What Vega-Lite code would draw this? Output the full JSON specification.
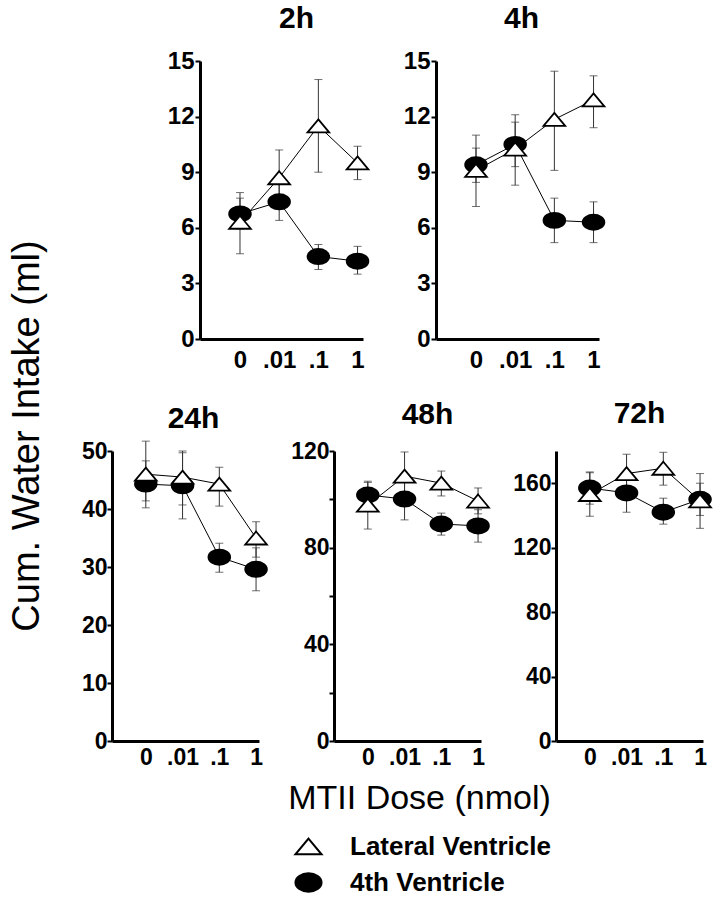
{
  "$schema": "https://vega.github.io/schema/vega-lite/v6.json",
  "padding": {"left": 8, "top": 4, "right": 2, "bottom": 8},
  "datasets": {
    "d": [
      {"p": "2h", "g": "4th Ventricle", "d": "0", "v": 6.75, "lo": 5.95, "hi": 7.6},
      {"p": "2h", "g": "4th Ventricle", "d": ".01", "v": 7.4, "lo": 6.4, "hi": 8.4},
      {"p": "2h", "g": "4th Ventricle", "d": ".1", "v": 4.45, "lo": 3.75, "hi": 5.1},
      {"p": "2h", "g": "4th Ventricle", "d": "1", "v": 4.2, "lo": 3.5, "hi": 5.0},
      {"p": "2h", "g": "Lateral Ventricle", "d": "0", "v": 6.3, "lo": 4.6, "hi": 7.9},
      {"p": "2h", "g": "Lateral Ventricle", "d": ".01", "v": 8.7, "lo": 7.2, "hi": 10.2},
      {"p": "2h", "g": "Lateral Ventricle", "d": ".1", "v": 11.5, "lo": 9.0, "hi": 14.0},
      {"p": "2h", "g": "Lateral Ventricle", "d": "1", "v": 9.5, "lo": 8.6, "hi": 10.4},
      {"p": "4h", "g": "4th Ventricle", "d": "0", "v": 9.4, "lo": 8.45, "hi": 10.3},
      {"p": "4h", "g": "4th Ventricle", "d": ".01", "v": 10.5, "lo": 9.3, "hi": 11.7},
      {"p": "4h", "g": "4th Ventricle", "d": ".1", "v": 6.4, "lo": 5.2, "hi": 7.6},
      {"p": "4h", "g": "4th Ventricle", "d": "1", "v": 6.3, "lo": 5.2, "hi": 7.4},
      {"p": "4h", "g": "Lateral Ventricle", "d": "0", "v": 9.1, "lo": 7.15, "hi": 11.0},
      {"p": "4h", "g": "Lateral Ventricle", "d": ".01", "v": 10.25, "lo": 8.3, "hi": 12.1},
      {"p": "4h", "g": "Lateral Ventricle", "d": ".1", "v": 11.85, "lo": 9.1, "hi": 14.45},
      {"p": "4h", "g": "Lateral Ventricle", "d": "1", "v": 12.9, "lo": 11.4, "hi": 14.2},
      {"p": "24h", "g": "4th Ventricle", "d": "0", "v": 44.3, "lo": 40.2, "hi": 48.3},
      {"p": "24h", "g": "4th Ventricle", "d": ".01", "v": 44.0, "lo": 38.3, "hi": 49.7},
      {"p": "24h", "g": "4th Ventricle", "d": ".1", "v": 31.7, "lo": 29.1, "hi": 34.1},
      {"p": "24h", "g": "4th Ventricle", "d": "1", "v": 29.6, "lo": 25.9, "hi": 33.3},
      {"p": "24h", "g": "Lateral Ventricle", "d": "0", "v": 46.0, "lo": 41.4, "hi": 51.7},
      {"p": "24h", "g": "Lateral Ventricle", "d": ".01", "v": 45.5, "lo": 40.7, "hi": 50.0},
      {"p": "24h", "g": "Lateral Ventricle", "d": ".1", "v": 44.3, "lo": 40.5, "hi": 47.2},
      {"p": "24h", "g": "Lateral Ventricle", "d": "1", "v": 35.0, "lo": 31.7, "hi": 37.8},
      {"p": "48h", "g": "4th Ventricle", "d": "0", "v": 101.8, "lo": 96.6, "hi": 107.0},
      {"p": "48h", "g": "4th Ventricle", "d": ".01", "v": 100.1, "lo": 91.5, "hi": 108.7},
      {"p": "48h", "g": "4th Ventricle", "d": ".1", "v": 89.8, "lo": 85.2, "hi": 94.3},
      {"p": "48h", "g": "4th Ventricle", "d": "1", "v": 89.0, "lo": 82.3, "hi": 95.7},
      {"p": "48h", "g": "Lateral Ventricle", "d": "0", "v": 97.6, "lo": 87.7, "hi": 107.5},
      {"p": "48h", "g": "Lateral Ventricle", "d": ".01", "v": 109.6, "lo": 99.6, "hi": 119.6},
      {"p": "48h", "g": "Lateral Ventricle", "d": ".1", "v": 106.7, "lo": 101.4, "hi": 111.7},
      {"p": "48h", "g": "Lateral Ventricle", "d": "1", "v": 99.3, "lo": 94.0, "hi": 104.7},
      {"p": "72h", "g": "4th Ventricle", "d": "0", "v": 157, "lo": 147, "hi": 167},
      {"p": "72h", "g": "4th Ventricle", "d": ".01", "v": 154, "lo": 142, "hi": 166},
      {"p": "72h", "g": "4th Ventricle", "d": ".1", "v": 142, "lo": 134.6, "hi": 150.7},
      {"p": "72h", "g": "4th Ventricle", "d": "1", "v": 150, "lo": 140, "hi": 160},
      {"p": "72h", "g": "Lateral Ventricle", "d": "0", "v": 153, "lo": 139.5, "hi": 166.5},
      {"p": "72h", "g": "Lateral Ventricle", "d": ".01", "v": 166, "lo": 154, "hi": 178},
      {"p": "72h", "g": "Lateral Ventricle", "d": ".1", "v": 169.3, "lo": 158.8, "hi": 179.2},
      {"p": "72h", "g": "Lateral Ventricle", "d": "1", "v": 149, "lo": 132, "hi": 166}
    ]
  },
  "data": {"name": "d"},
  "title": {"text": "Cum. Water Intake (ml)", "orient": "left", "anchor": "middle", "fontSize": 38, "fontWeight": "normal", "offset": 25, "dx": 14},
  "spacing": 27,
  "vconcat": [
    {
      "bounds": "flush",
      "spacing": 73,
      "hconcat": [
        {"width": 15, "height": 278, "data": {"values": []}, "mark": "point"},
        {
          "width": 163, "height": 278,
          "title": {"text": "2h", "offset": 15, "dx": 15},
          "transform": [{"filter": "datum.p === '2h'"}],
          "encoding": {"x": {"field": "d", "type": "ordinal", "scale": {"type": "point", "domain": ["0", ".01", ".1", "1"], "padding": 0.58, "align": 0.88}, "axis": {"title": null, "labelFontSize": 24, "labelPadding": 9}}},
          "layer": [
            {"mark": {"type": "rule", "color": "#333", "strokeWidth": 1}, "encoding": {"y": {"field": "lo", "type": "quantitative", "scale": {"domain": [0, 15]}, "title": null}, "y2": {"field": "hi"}}},
            {"mark": {"type": "tick", "color": "#333", "thickness": 1, "size": 8}, "encoding": {"y": {"field": "lo", "type": "quantitative", "scale": {"domain": [0, 15]}, "title": null}}},
            {"mark": {"type": "tick", "color": "#333", "thickness": 1, "size": 8}, "encoding": {"y": {"field": "hi", "type": "quantitative", "scale": {"domain": [0, 15]}, "title": null}}},
            {"mark": {"type": "line", "color": "black", "strokeWidth": 1}, "encoding": {"y": {"field": "v", "type": "quantitative", "scale": {"domain": [0, 15]}, "title": null}, "detail": {"field": "g"}, "order": {"value": null}}},
            {"mark": {"type": "point", "filled": true, "strokeWidth": 1.8, "size": 470, "opacity": 1},
             "encoding": {
               "y": {"field": "v", "type": "quantitative", "scale": {"domain": [0, 15]}, "axis": {"title": null, "values": [0, 3, 6, 9, 12, 15], "labelFontSize": 24}},
               "shape": {"field": "g", "type": "nominal", "scale": {"domain": ["Lateral Ventricle", "4th Ventricle"], "range": ["M0,-0.6L1,0.6L-1,0.6Z", "M-1,0A1,0.7,0,1,0,1,0A1,0.7,0,1,0,-1,0Z"]}, "legend": {"title": null, "orient": "none", "legendX": 182, "legendY": 771}},
               "fill": {"field": "g", "type": "nominal", "scale": {"domain": ["Lateral Ventricle", "4th Ventricle"], "range": ["white", "black"]}, "legend": {"title": null, "orient": "none", "legendX": 182, "legendY": 771}},
               "stroke": {"field": "g", "type": "nominal", "scale": {"domain": ["Lateral Ventricle", "4th Ventricle"], "range": ["black", "black"]}, "legend": {"title": null, "orient": "none", "legendX": 182, "legendY": 771}}
             }}
          ]
        },
        {
          "width": 163, "height": 278,
          "title": {"text": "4h", "offset": 15, "dx": 4},
          "transform": [{"filter": "datum.p === '4h'"}],
          "encoding": {"x": {"field": "d", "type": "ordinal", "scale": {"type": "point", "domain": ["0", ".01", ".1", "1"], "padding": 0.58, "align": 0.88}, "axis": {"title": null, "labelFontSize": 24, "labelPadding": 9}}},
          "layer": [
            {"mark": {"type": "rule", "color": "#333", "strokeWidth": 1}, "encoding": {"y": {"field": "lo", "type": "quantitative", "scale": {"domain": [0, 15]}, "title": null}, "y2": {"field": "hi"}}},
            {"mark": {"type": "tick", "color": "#333", "thickness": 1, "size": 8}, "encoding": {"y": {"field": "lo", "type": "quantitative", "scale": {"domain": [0, 15]}, "title": null}}},
            {"mark": {"type": "tick", "color": "#333", "thickness": 1, "size": 8}, "encoding": {"y": {"field": "hi", "type": "quantitative", "scale": {"domain": [0, 15]}, "title": null}}},
            {"mark": {"type": "line", "color": "black", "strokeWidth": 1}, "encoding": {"y": {"field": "v", "type": "quantitative", "scale": {"domain": [0, 15]}, "title": null}, "detail": {"field": "g"}, "order": {"value": null}}},
            {"mark": {"type": "point", "filled": true, "strokeWidth": 1.8, "size": 470, "opacity": 1},
             "encoding": {
               "y": {"field": "v", "type": "quantitative", "scale": {"domain": [0, 15]}, "axis": {"title": null, "values": [0, 3, 6, 9, 12, 15], "labelFontSize": 24}},
               "shape": {"field": "g", "type": "nominal", "scale": {"domain": ["Lateral Ventricle", "4th Ventricle"], "range": ["M0,-0.6L1,0.6L-1,0.6Z", "M-1,0A1,0.7,0,1,0,1,0A1,0.7,0,1,0,-1,0Z"]}, "legend": {"title": null, "orient": "none", "legendX": 182, "legendY": 771}},
               "fill": {"field": "g", "type": "nominal", "scale": {"domain": ["Lateral Ventricle", "4th Ventricle"], "range": ["white", "black"]}, "legend": {"title": null, "orient": "none", "legendX": 182, "legendY": 771}},
               "stroke": {"field": "g", "type": "nominal", "scale": {"domain": ["Lateral Ventricle", "4th Ventricle"], "range": ["black", "black"]}, "legend": {"title": null, "orient": "none", "legendX": 182, "legendY": 771}}
             }}
          ]
        }
      ]
    },
    {
      "bounds": "flush",
      "spacing": 75,
      "hconcat": [
        {
          "width": 147, "height": 290,
          "title": {"text": "24h", "offset": 6, "dx": 8},
          "transform": [{"filter": "datum.p === '24h'"}],
          "encoding": {"x": {"field": "d", "type": "ordinal", "scale": {"type": "point", "domain": ["0", ".01", ".1", "1"], "padding": 0.5, "align": 0.92}, "axis": {"title": null, "labelFontSize": 23, "labelPadding": 5}}},
          "layer": [
            {"mark": {"type": "rule", "color": "#333", "strokeWidth": 1}, "encoding": {"y": {"field": "lo", "type": "quantitative", "scale": {"domain": [0, 50]}, "title": null}, "y2": {"field": "hi"}}},
            {"mark": {"type": "tick", "color": "#333", "thickness": 1, "size": 8}, "encoding": {"y": {"field": "lo", "type": "quantitative", "scale": {"domain": [0, 50]}, "title": null}}},
            {"mark": {"type": "tick", "color": "#333", "thickness": 1, "size": 8}, "encoding": {"y": {"field": "hi", "type": "quantitative", "scale": {"domain": [0, 50]}, "title": null}}},
            {"mark": {"type": "line", "color": "black", "strokeWidth": 1}, "encoding": {"y": {"field": "v", "type": "quantitative", "scale": {"domain": [0, 50]}, "title": null}, "detail": {"field": "g"}, "order": {"value": null}}},
            {"mark": {"type": "point", "filled": true, "strokeWidth": 1.8, "size": 470, "opacity": 1},
             "encoding": {
               "y": {"field": "v", "type": "quantitative", "scale": {"domain": [0, 50]}, "axis": {"title": null, "values": [0, 5, 10, 15, 20, 25, 30, 35, 40, 45, 50], "labelExpr": "datum.value % 10 === 0 ? datum.label : ''", "labelFontSize": 23, "minExtent": 40, "labelPadding": 0}},
               "shape": {"field": "g", "type": "nominal", "scale": {"domain": ["Lateral Ventricle", "4th Ventricle"], "range": ["M0,-0.6L1,0.6L-1,0.6Z", "M-1,0A1,0.7,0,1,0,1,0A1,0.7,0,1,0,-1,0Z"]}, "legend": {"title": null, "orient": "none", "legendX": 182, "legendY": 771}},
               "fill": {"field": "g", "type": "nominal", "scale": {"domain": ["Lateral Ventricle", "4th Ventricle"], "range": ["white", "black"]}, "legend": {"title": null, "orient": "none", "legendX": 182, "legendY": 771}},
               "stroke": {"field": "g", "type": "nominal", "scale": {"domain": ["Lateral Ventricle", "4th Ventricle"], "range": ["black", "black"]}, "legend": {"title": null, "orient": "none", "legendX": 182, "legendY": 771}}
             }}
          ]
        },
        {
          "width": 147, "height": 290,
          "title": {"text": "48h", "offset": 10, "dx": 20},
          "transform": [{"filter": "datum.p === '48h'"}],
          "encoding": {"x": {"field": "d", "type": "ordinal", "scale": {"type": "point", "domain": ["0", ".01", ".1", "1"], "padding": 0.5, "align": 0.92}, "axis": {"title": "MTII Dose (nmol)", "labelFontSize": 23, "labelPadding": 5, "titleFontSize": 34, "titleFontWeight": "normal", "titleX": 85, "titleY": 67, "titleBaseline": "alphabetic", "titleAlign": "center"}}},
          "layer": [
            {"mark": {"type": "rule", "color": "#333", "strokeWidth": 1}, "encoding": {"y": {"field": "lo", "type": "quantitative", "scale": {"domain": [0, 120]}, "title": null}, "y2": {"field": "hi"}}},
            {"mark": {"type": "tick", "color": "#333", "thickness": 1, "size": 8}, "encoding": {"y": {"field": "lo", "type": "quantitative", "scale": {"domain": [0, 120]}, "title": null}}},
            {"mark": {"type": "tick", "color": "#333", "thickness": 1, "size": 8}, "encoding": {"y": {"field": "hi", "type": "quantitative", "scale": {"domain": [0, 120]}, "title": null}}},
            {"mark": {"type": "line", "color": "black", "strokeWidth": 1}, "encoding": {"y": {"field": "v", "type": "quantitative", "scale": {"domain": [0, 120]}, "title": null}, "detail": {"field": "g"}, "order": {"value": null}}},
            {"mark": {"type": "point", "filled": true, "strokeWidth": 1.8, "size": 470, "opacity": 1},
             "encoding": {
               "y": {"field": "v", "type": "quantitative", "scale": {"domain": [0, 120]}, "axis": {"title": null, "values": [0, 20, 40, 60, 80, 100, 120], "labelExpr": "datum.value % 40 === 0 ? datum.label : ''", "labelFontSize": 23, "labelPadding": 0}},
               "shape": {"field": "g", "type": "nominal", "scale": {"domain": ["Lateral Ventricle", "4th Ventricle"], "range": ["M0,-0.6L1,0.6L-1,0.6Z", "M-1,0A1,0.7,0,1,0,1,0A1,0.7,0,1,0,-1,0Z"]}, "legend": {"title": null, "orient": "none", "legendX": 182, "legendY": 771}},
               "fill": {"field": "g", "type": "nominal", "scale": {"domain": ["Lateral Ventricle", "4th Ventricle"], "range": ["white", "black"]}, "legend": {"title": null, "orient": "none", "legendX": 182, "legendY": 771}},
               "stroke": {"field": "g", "type": "nominal", "scale": {"domain": ["Lateral Ventricle", "4th Ventricle"], "range": ["black", "black"]}, "legend": {"title": null, "orient": "none", "legendX": 182, "legendY": 771}}
             }}
          ]
        },
        {
          "width": 147, "height": 290,
          "title": {"text": "72h", "offset": 22, "dx": 10},
          "transform": [{"filter": "datum.p === '72h'"}],
          "encoding": {"x": {"field": "d", "type": "ordinal", "scale": {"type": "point", "domain": ["0", ".01", ".1", "1"], "padding": 0.5, "align": 0.92}, "axis": {"title": null, "labelFontSize": 23, "labelPadding": 5}}},
          "layer": [
            {"mark": {"type": "rule", "color": "#333", "strokeWidth": 1}, "encoding": {"y": {"field": "lo", "type": "quantitative", "scale": {"domain": [0, 180]}, "title": null}, "y2": {"field": "hi"}}},
            {"mark": {"type": "tick", "color": "#333", "thickness": 1, "size": 8}, "encoding": {"y": {"field": "lo", "type": "quantitative", "scale": {"domain": [0, 180]}, "title": null}}},
            {"mark": {"type": "tick", "color": "#333", "thickness": 1, "size": 8}, "encoding": {"y": {"field": "hi", "type": "quantitative", "scale": {"domain": [0, 180]}, "title": null}}},
            {"mark": {"type": "line", "color": "black", "strokeWidth": 1}, "encoding": {"y": {"field": "v", "type": "quantitative", "scale": {"domain": [0, 180]}, "title": null}, "detail": {"field": "g"}, "order": {"value": null}}},
            {"mark": {"type": "point", "filled": true, "strokeWidth": 1.8, "size": 470, "opacity": 1},
             "encoding": {
               "y": {"field": "v", "type": "quantitative", "scale": {"domain": [0, 180]}, "axis": {"title": null, "values": [0, 20, 40, 60, 80, 100, 120, 140, 160, 180], "labelExpr": "datum.value % 40 === 0 ? datum.label : ''", "labelFontSize": 23, "labelPadding": 0}},
               "shape": {"field": "g", "type": "nominal", "scale": {"domain": ["Lateral Ventricle", "4th Ventricle"], "range": ["M0,-0.6L1,0.6L-1,0.6Z", "M-1,0A1,0.7,0,1,0,1,0A1,0.7,0,1,0,-1,0Z"]}, "legend": {"title": null, "orient": "none", "legendX": 182, "legendY": 771}},
               "fill": {"field": "g", "type": "nominal", "scale": {"domain": ["Lateral Ventricle", "4th Ventricle"], "range": ["white", "black"]}, "legend": {"title": null, "orient": "none", "legendX": 182, "legendY": 771}},
               "stroke": {"field": "g", "type": "nominal", "scale": {"domain": ["Lateral Ventricle", "4th Ventricle"], "range": ["black", "black"]}, "legend": {"title": null, "orient": "none", "legendX": 182, "legendY": 771}}
             }}
          ]
        }
      ]
    }
  ],
  "resolve": {"scale": {"shape": "shared", "fill": "shared", "stroke": "shared"}},
  "config": {
    "font": "Liberation Sans",
    "view": {"stroke": null},
    "axis": {"domainColor": "black", "domainWidth": 3, "tickColor": "black", "tickWidth": 2, "tickSize": 5, "labelColor": "black", "labelFont": "Liberation Sans", "labelFontWeight": "bold", "grid": false, "titleColor": "black", "titleFont": "Liberation Sans"},
    "axisX": {"ticks": false, "tickSize": 0, "labelAngle": 0},
    "axisY": {"labelPadding": 1},
    "title": {"font": "Liberation Sans", "fontSize": 30, "fontWeight": "bold", "color": "black", "baseline": "alphabetic"},
    "legend": {"labelFont": "Liberation Sans", "labelFontSize": 26, "labelFontWeight": "bold", "labelColor": "black", "labelLimit": 400, "symbolSize": 680, "symbolStrokeColor": "black", "symbolStrokeWidth": 2, "labelOffset": 27, "rowPadding": 8, "padding": 0}
  }
}
